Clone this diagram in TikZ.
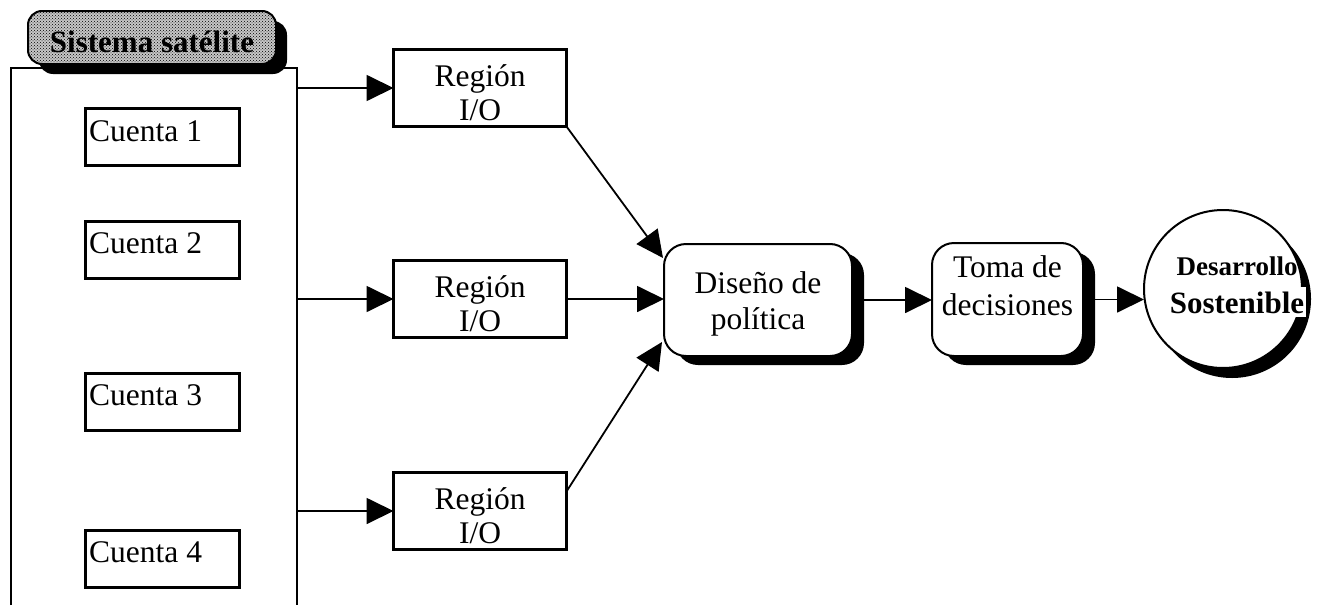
\documentclass[tikz,border=0pt]{standalone}
\usepackage{fontspec}
\setmainfont{Liberation Serif}
\usetikzlibrary{arrows.meta,calc,patterns,shadows}

\tikzset{
  acct/.style={draw, line width=3pt, minimum width=154pt, minimum height=57pt,
    outer sep=0pt, inner sep=0pt},
  region/.style={draw, line width=3pt, minimum width=173pt, minimum height=77pt,
    outer sep=0pt, inner sep=0pt},
  stage/.style={draw, line width=2pt, rounded corners=22pt, fill=white,
    outer sep=0pt, inner sep=0pt,
    drop shadow={fill=black, opacity=1, shadow xshift=12pt, shadow yshift=-9pt}},
  lbl/.style={font=\fontsize{31.5pt}{34pt}\selectfont, align=center, inner sep=0pt},
  boldlbl/.style={font=\bfseries\fontsize{#1}{#1}\selectfont, anchor=base, inner sep=0pt},
  conn/.style={line width=1.8pt, -{Triangle[length=27pt, width=26pt]}},
  panel/.style={line width=2pt}
}

\begin{document}
\begin{tikzpicture}[x=1pt, y=-1pt]
\useasboundingbox (0,0) rectangle (1332,605);

% open frame holding the satellite accounts
\coordinate (ptl) at (11,68);
\coordinate (ptr) at (297,68);
\coordinate (pbl) at (11,605);
\coordinate (pbr) at (297,605);
\draw[panel] (pbl) -- (ptl) -- (ptr) -- (pbr);

% title banner with dotted fill
\node[draw, line width=2pt, rounded corners=14pt, minimum width=248pt, minimum height=53pt,
      fill=black!22, postaction={pattern=crosshatch dots, pattern color=black},
      drop shadow={fill=black, opacity=1, shadow xshift=11pt, shadow yshift=-10pt},
      outer sep=0pt, inner sep=0pt] (sat) at (152,37.5) {};
\node[boldlbl=31pt] (satt) at (152,52) {Sistema satélite};

% accounts
\node[acct] (c1) at (162.5,137) {};
\node[acct] (c2) at (162.5,249.5) {};
\node[acct] (c3) at (162.5,401.5) {};
\node[acct] (c4) at (162.5,558.5) {};
\foreach \i in {1,...,4}
  \node[lbl, anchor=base west] (c\i t) at ($(c\i.north west)+(3.5,32.5)$) {Cuenta \i};

% regional input-output tables
\node[region] (r1) at (480,88) {};
\node[region] (r2) at (480,299) {};
\node[region] (r3) at (480,511) {};
\foreach \i in {1,2,3}
  \node[lbl] (r\i t) at ($(r\i)+(0,4.5)$) {Región\\I/O};

% policy and decision stages
\node[stage, minimum width=188pt, minimum height=112pt] (dis) at (758,300) {};
\node[lbl, font=\fontsize{31.5pt}{36pt}\selectfont] (dist) at (758,303.5) {Diseño de\\política};

\node[stage, minimum width=151pt, minimum height=113pt] (toma) at (1007.5,299.5) {};
\node[lbl, font=\fontsize{31.5pt}{38pt}\selectfont] (tomat) at (1007.5,285.5) {Toma de\\decisiones};

% goal
\node[circle, draw, line width=2pt, fill=white, minimum size=158pt, outer sep=0pt, inner sep=0pt,
      drop shadow={fill=black, opacity=1, shadow xshift=9pt, shadow yshift=-10pt}] (goal) at (1223,289) {};
\node[boldlbl=27pt] (goal1) at (1237,275) {Desarrollo};
\node[boldlbl=31pt, fill=white, inner xsep=2pt, inner ysep=4pt] (goal2) at (1237,313) {Sostenible};

% connectors
\draw[conn] (ptr |- r1.west) -- (r1.west);
\draw[conn] (ptr |- r2.west) -- (r2.west);
\draw[conn] (ptr |- r3.west) -- (r3.west);
\draw[conn] (r1.south east) -- ($(dis.north west)+(-1,14)$);
\draw[conn] (r2.east) -- (r2.east -| dis.west);
\draw[conn] ($(r3.north east)+(0,19)$) -- ($(dis.south west)+(-2,-14)$);
\draw[conn] (dis.east) -- (dis.east -| toma.west);
\draw[conn] (toma.east) -- (toma.east -| goal.west);
\end{tikzpicture}
\end{document}
